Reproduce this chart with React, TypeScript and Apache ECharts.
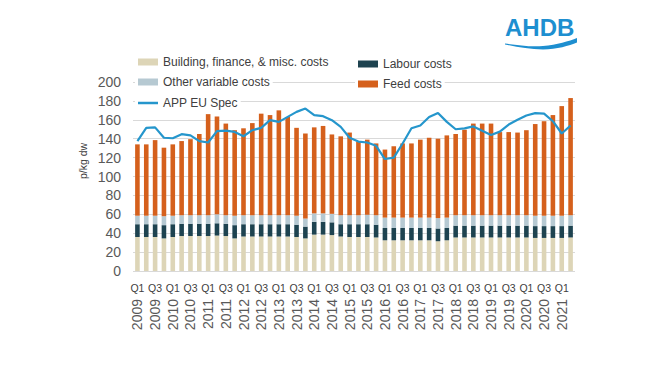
import React, { useEffect, useRef } from "react";
import * as echarts from "echarts";

const years = [2009, 2010, 2011, 2012, 2013, 2014, 2015, 2016, 2017, 2018, 2019, 2020, 2021];
const quarters = ["Q1", "Q2", "Q3", "Q4"];
const categories: string[] = [];
years.forEach((y) => quarters.forEach((q) => categories.push(q + " " + y)));
categories.splice(50);

const buildingCosts = [
  36, 36, 36, 34.5, 36, 37, 37, 37, 37, 37.5, 37, 34.5, 36.5, 36.5, 36.5, 36.5, 36.5, 36.5, 36, 34.5,
  38.5, 38.5, 38, 36.5, 36, 36, 36, 35.5, 32.5, 32.5, 32.5, 32.5, 32.5, 32.5, 31.5, 32.5, 35.5, 35.5, 35.5, 35.5,
  35.5, 35.5, 35.5, 35.5, 35.5, 35, 35, 35, 35, 35.5,
];
const labourCosts = [
  13.5, 13.5, 13.5, 14, 13.5, 13, 13, 13, 13, 13, 13, 14, 13, 13, 13, 13, 13, 13, 13, 12.5,
  13.5, 13.5, 13.5, 13, 13.5, 13.5, 13.5, 13.5, 13, 13, 13, 13, 13, 13, 13.5, 13, 12.5, 12.5, 12.5, 12.5,
  12.5, 12.5, 12.5, 12.5, 12.5, 12.5, 12.5, 12.5, 12.5, 12.5,
];
const otherVariableCosts = [
  9, 9, 9, 9.5, 9, 9, 9, 9, 9, 9.5, 9, 10, 9.5, 9.5, 9.5, 9.5, 9.5, 9.5, 9.5, 8.5,
  9, 9, 9, 9.5, 9.5, 9.5, 10, 10, 11, 11, 11, 11, 11, 11, 11, 11, 11, 11, 11, 11,
  11, 11, 11, 11, 11, 11, 11, 11, 11, 11,
];
const feedCosts = [
  75.5, 75.5, 80, 72.5, 75.5, 78.5, 80.5, 86, 107, 103.5, 97, 90.5, 92, 97.5, 107.5, 106, 111, 104, 93, 90,
  91, 92.5, 84, 83.5, 87.5, 78, 79.5, 76, 72, 75.5, 78.5, 78.5, 82.5, 84.5, 84, 87, 86, 90.5, 97, 97,
  97, 88, 88, 87.5, 90, 97, 100, 106.5, 116, 124,
];
const appEuSpec = [
  137.5, 151.5, 152, 141, 140.5, 144.8, 143.5, 137.4, 136, 148, 148.5, 147.2, 142.6, 149, 151.5, 159.6, 157.8, 163.1, 168.4, 171.9,
  164.9, 163.8, 159.6, 152.5, 141, 137, 136, 132.5, 118.5, 120, 134.9, 151, 154, 163, 167.3, 157.8, 150, 151, 153, 148.3,
  144, 147.5, 155, 160, 164.5, 167, 166.6, 158.5, 145.5, 154,
];

const FONT = "'Liberation Sans', Arial, sans-serif";

echarts.graphic.registerShape(
  "ahdbWave",
  echarts.graphic.extendPath(
    "M0 6.5 C12 8 25 10 38 9 C52 8 64 4 72 1 L72 5.5 C64 9 52 12 38 12.5 C25 12.5 12 10 0 7.5 Z",
    {}
  )
);

export default function App() {
  const ref = useRef<HTMLDivElement>(null);
  useEffect(() => {
    if (!ref.current) return;
    const chart = echarts.init(ref.current, undefined, { renderer: "svg" });
    const legendBase = {
      backgroundColor: "#ffffff",
      padding: [1, 3],
      itemWidth: 20,
      itemHeight: 7,
      itemGap: 5,
      textStyle: { fontSize: 12, color: "#404040", fontFamily: FONT },
      selectedMode: false,
    };
    chart.setOption({
      animation: false,
      backgroundColor: "#ffffff",
      textStyle: { fontFamily: FONT },
      legend: [
        { ...legendBase, left: 135, top: 55, data: [{ name: "Building, finance, & misc. costs", icon: "rect" }] },
        { ...legendBase, left: 135, top: 75, data: [{ name: "Other variable costs", icon: "rect" }] },
        {
          ...legendBase,
          left: 135,
          top: 96,
          itemHeight: 2.5,
          data: [{ name: "APP EU Spec", icon: "rect" }],
        },
        { ...legendBase, left: 355, top: 57, data: [{ name: "Labour costs", icon: "rect" }] },
        { ...legendBase, left: 355, top: 77, data: [{ name: "Feed costs", icon: "rect" }] },
      ],
      grid: { left: 133, right: 75, top: 82, bottom: 95 },
      xAxis: [
        {
          type: "category",
          data: categories,
          axisLine: { show: false },
          axisTick: { show: false },
          axisLabel: {
            interval: 1,
            fontSize: 10.5,
            color: "#404040",
            margin: 11,
            formatter: (v: string) => v.split(" ")[0],
          },
        },
        {
          type: "category",
          data: categories,
          position: "bottom",
          axisLine: { show: false },
          axisTick: { show: false },
          axisLabel: {
            interval: 1,
            rotate: 90,
            fontSize: 14,
            color: "#595959",
            margin: 28,
            formatter: (v: string) => v.split(" ")[1],
          },
        },
      ],
      yAxis: {
        type: "value",
        min: 0,
        max: 200,
        interval: 20,
        axisLine: { show: false },
        axisTick: { show: false },
        axisLabel: { fontSize: 14, color: "#595959", margin: 12 },
        splitLine: { lineStyle: { color: "#d9d9d9", width: 1 } },
      },
      series: [
        {
          name: "Building, finance, & misc. costs",
          type: "bar",
          stack: "cost",
          barWidth: 4.6,
          data: buildingCosts,
          itemStyle: { color: "#ddd5b7" },
        },
        {
          name: "Labour costs",
          type: "bar",
          stack: "cost",
          barWidth: 4.6,
          data: labourCosts,
          itemStyle: { color: "#1e4350" },
        },
        {
          name: "Other variable costs",
          type: "bar",
          stack: "cost",
          barWidth: 4.6,
          data: otherVariableCosts,
          itemStyle: { color: "#b6c9d2" },
        },
        {
          name: "Feed costs",
          type: "bar",
          stack: "cost",
          barWidth: 4.6,
          data: feedCosts,
          itemStyle: { color: "#d5601c" },
        },
        {
          name: "APP EU Spec",
          type: "line",
          data: appEuSpec,
          symbol: "none",
          showSymbol: false,
          z: 5,
          lineStyle: { color: "#2596cc", width: 2.2 },
          itemStyle: { color: "#2596cc" },
        },
      ],
      graphic: [
        {
          type: "text",
          rotation: Math.PI / 2,
          x: 83,
          y: 161,
          style: {
            text: "p/kg dw",
            fontSize: 10.5,
            fill: "#404040",
            fontFamily: FONT,
            align: "center",
            verticalAlign: "middle",
          },
        },
        {
          type: "text",
          x: 505,
          y: 15,
          style: {
            text: "AHDB",
            fontSize: 24,
            fontWeight: "bold",
            fill: "#1e8fd0",
            fontFamily: FONT,
          },
        },
        {
          type: "ahdbWave",
          x: 505,
          y: 37,
          style: { fill: "#1e8fd0" },
        },
      ],
    });
    return () => chart.dispose();
  }, []);
  return (
    <div
      ref={ref}
      style={{ position: "absolute", left: 0, top: 0, width: 650, height: 366 }}
    />
  );
}
